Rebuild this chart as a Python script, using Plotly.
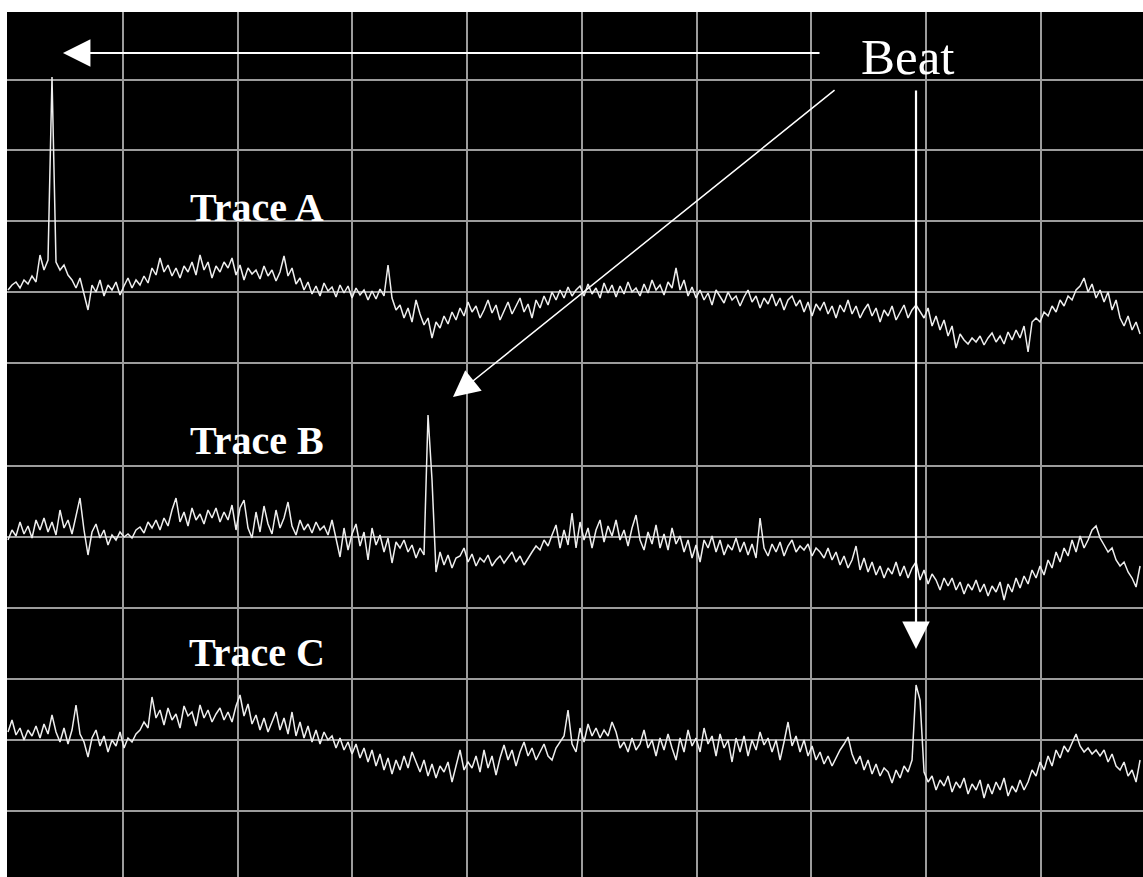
import plotly.graph_objects as go

# ---------------- data ----------------
SAMPLE_STEP = 0.03486  # time between samples, in grid divisions

# deflection of each trace from its own baseline (units: y-axis units)
TRACE_A = [
    2, 7, 10, 4, 12, 8, 16, 10, 37, 22,
    32, 215, 30, 22, 27, 17, 12, 4, 14, -3,
    -18, 7, 0, 12, -4, 7, 2, 10, -3, 6,
    14, 4, 12, 7, 16, 9, 24, 17, 34, 20,
    27, 16, 24, 14, 26, 20, 30, 17, 37, 22,
    30, 14, 26, 20, 30, 24, 34, 17, 27, 12,
    24, 18, 22, 13, 26, 16, 22, 11, 20, 36,
    16, 24, 8, 14, 2, 10, -2, 6, -4, 9,
    1, 5, -5, 7, -1, 6, -6, 4, -3, 2,
    -8, 1, -7, 3, -4, 27, -6, -18, -13, -26,
    -16, -30, -8, -22, -33, -26, -46, -30, -36, -24,
    -32, -20, -28, -16, -24, -10, -20, -14, -26, -18,
    -8, -21, -13, -28, -18, -10, -22, -14, -6, -20,
    -12, -26, -8, -16, -4, -13, 0, -8, 2, -6,
    5, -4, 2, 6, -4, 8, -2, 4, -6, 9,
    -1, 7, -5, 6, -2, 10, 0, 4, -4, 8,
    -1, 12, 2, 7, -3, 10, 4, 24, 2, 12,
    -4, 5, -6, 2, -8, -1, -13, 2, -5, -11,
    0, -8, -4, -14, -5, 2, -10, -4, -16, -6,
    -12, -2, -14, -6, -18, -8, -4, -14, -8, -20,
    -10, -24, -12, -18, -10, -22, -14, -26, -13, -20,
    -8, -22, -14, -26, -18, -12, -24, -16, -30, -18,
    -24, -14, -28, -20, -13, -26, -18, -13, -20, -26,
    -16, -34, -24, -38, -28, -44, -34, -56, -42, -48,
    -52, -46, -50, -44, -53, -46, -41, -50, -44, -52,
    -40, -48, -38, -46, -34, -60, -30, -26, -30, -20,
    -24, -14, -20, -8, -14, -4, -8, 2, 6, 14,
    0, 8, -6, 2, -10, 0, -18, -8, -26, -34,
    -24, -38, -30, -42,
]

TRACE_B = [
    -3, 7, 1, 15, 3, 11, -1, 17, 7, 19,
    5, 15, 2, 27, 9, 17, 3, 22, 39, 7,
    -18, 5, 13, -1, 7, -8, 2, -3, 5, 0,
    3, -1, 7, 10, 4, 15, 9, 17, 7, 19,
    11, 27, 39, 15, 25, 11, 29, 17, 23, 13,
    27, 19, 29, 15, 25, 17, 32, 7, 29, 37,
    9, -1, 25, 5, 31, 13, 3, 27, 9, 19,
    35, 11, 2, 17, 7, 13, 4, 15, 7, 11,
    2, 17, -3, -20, 9, -13, 3, 13, -9, 5,
    -23, 9, -8, 2, -15, -1, -26, -5, -11, -3,
    -15, -8, -21, -11, -18, 122, 57, -35, -15, -28,
    -18, -31, -21, -19, -11, -25, -17, -29, -21, -25,
    -18, -29, -23, -19, -26, -21, -15, -25, -19, -28,
    -21, -15, -9, -13, -3, -9, 2, 12, -11, 7,
    -8, 24, -11, 15, -3, 9, -11, 7, 17, -5,
    11, 1, 17, -3, 7, -9, 9, 22, -3, -13,
    5, -7, 12, -11, 3, -13, 9, -7, 1, -15,
    -3, -21, -8, -25, -3, -11, 1, -15, -3, -18,
    -8, -13, -1, -15, -5, -18, -7, -21, 19, -11,
    -19, -7, -15, -5, -19, -9, -3, -15, -9, -13,
    -7, -19, -11, -15, -21, -11, -23, -15, -28, -19,
    -31, -23, -9, -33, -21, -35, -25, -38, -29, -41,
    -31, -37, -25, -39, -29, -41, -31, -25, -43, -33,
    -47, -37, -43, -53, -41, -49, -41, -53, -45, -57,
    -47, -53, -43, -55, -47, -59, -49, -55, -45, -63,
    -47, -55, -41, -51, -39, -47, -33, -41, -29, -38,
    -23, -31, -15, -25, -11, -19, -3, -15, 1, -11,
    -3, 7, 11, -1, -8, -15, -11, -23, -29, -25,
    -35, -41, -50, -29,
]

TRACE_C = [
    8, 20, 5, 12, 0, 10, 4, 14, 2, 16,
    6, 25, 8, -2, 12, -4, 10, 35, 6, -2,
    -17, 2, 10, -6, 4, -12, 0, -6, 8, -8,
    2, -2, 6, 10, 18, 12, 43, 22, 30, 15,
    32, 20, 26, 12, 34, 24, 28, 14, 35, 22,
    30, 18, 26, 32, 20, 28, 18, 34, 45, 24,
    36, 16, 25, 10, 22, 8, 18, 28, 10, 22,
    6, 28, 4, 18, 2, 14, -2, 10, -4, 8,
    0, 4, -8, 2, -10, -2, -14, -4, -18, -8,
    -22, -10, -26, -14, -30, -18, -34, -20, -30, -16,
    -28, -12, -22, -32, -20, -36, -24, -38, -26, -32,
    -22, -42, -26, -10, -30, -22, -28, -16, -32, -10,
    -28, -16, -35, -18, -5, -20, -10, -26, -12, -2,
    -16, -8, -20, -12, -4, -16, -20, -8, -2, 4,
    30, -4, -12, 12, -2, 16, 4, 12, 2, 10,
    4, 18, 8, -8, -2, -12, 2, -10, -4, 10,
    -8, 0, -16, 2, -10, 6, -8, -20, 2, -12,
    10, -6, 2, -12, 12, -4, 4, -16, 6, -8,
    0, -22, 2, -12, 4, -16, 0, -10, 8, -5,
    2, -12, 0, -20, -2, 18, -6, 4, -12, 0,
    -16, -6, -20, -12, -24, -16, -26, -18, -10, -4,
    3, -14, -24, -16, -30, -20, -34, -24, -36, -28,
    -32, -43, -30, -38, -26, -32, -20, 55, 40, -32,
    -42, -36, -50, -40, -46, -36, -52, -42, -48, -38,
    -54, -44, -50, -40, -58, -44, -54, -42, -50, -38,
    -56, -46, -52, -40, -50, -42, -30, -36, -22, -30,
    -16, -26, -10, -18, -6, -12, -2, 6, -6, -12,
    -8, -14, -10, -16, -10, -22, -14, -26, -30, -22,
    -36, -30, -42, -20,
]

TRACE_NAMES = ["Trace A", "Trace B", "Trace C"]
TRACE_BASELINES = [585, 340, 137]

X_GRID = [0, 1, 2, 3, 4, 5, 6, 7, 8, 9]
Y_GRID = [797, 727, 656, 585, 514, 411, 340, 269, 198, 137, 66]

# ---------------- figure ----------------
fig = go.Figure()

for vals, base in zip([TRACE_A, TRACE_B, TRACE_C], TRACE_BASELINES):
    t = [k * SAMPLE_STEP for k in range(len(vals))]
    fig.add_trace(go.Scatter(
        x=t, y=[base + v for v in vals], mode="lines",
        line=dict(color="#eeeeee", width=1.5),
        hoverinfo="skip", showlegend=False,
    ))

label_font = dict(family="Liberation Serif, Times New Roman, serif", size=40,
                  color="white", weight="bold")
label_pos = [(2.166, 670), (2.166, 437), (2.166, 225)]
for name, (lx, ly) in zip(TRACE_NAMES, label_pos):
    fig.add_annotation(x=lx, y=ly, text=name, showarrow=False,
                       xanchor="center", yanchor="middle", font=label_font)

fig.add_annotation(x=7.843, y=820, text="Beat", showarrow=False,
                   xanchor="center", yanchor="middle",
                   font=dict(family="Liberation Serif, Times New Roman, serif",
                             size=51, color="white"))

arrows = [
    # tip (x, y), tail (ax, ay), line width, head size
    ((0.479, 824), (7.085, 824), 2.2, 2.5),
    ((3.878, 480), (7.216, 788), 1.5, 3.5),
    ((7.913, 228), (7.913, 788), 2.2, 2.5),
]
for (tx, ty), (axx, ayy), w, s in arrows:
    fig.add_annotation(x=tx, y=ty, ax=axx, ay=ayy, xref="x", yref="y",
                       axref="x", ayref="y", text="", showarrow=True,
                       arrowhead=2, arrowwidth=w, arrowsize=s,
                       arrowcolor="white", standoff=0, startstandoff=0)

fig.update_layout(
    width=1143, height=877,
    margin=dict(l=7, r=0, t=12, b=0),
    paper_bgcolor="white", plot_bgcolor="black",
    showlegend=False,
    xaxis=dict(range=[-0.0087, 9.891], tickvals=X_GRID, showticklabels=False,
               ticks="", showgrid=True, gridcolor="#9c9c9c", gridwidth=2,
               zeroline=False, showline=False, fixedrange=True),
    yaxis=dict(range=[0, 865], tickvals=Y_GRID, showticklabels=False,
               ticks="", showgrid=True, gridcolor="#9c9c9c", gridwidth=2,
               zeroline=False, showline=False, fixedrange=True),
)

fig.write_html(
    "out.html",
    config={"displayModeBar": False},
    post_script="document.body.style.margin='0px';"
                "document.body.style.overflow='hidden';",
)
